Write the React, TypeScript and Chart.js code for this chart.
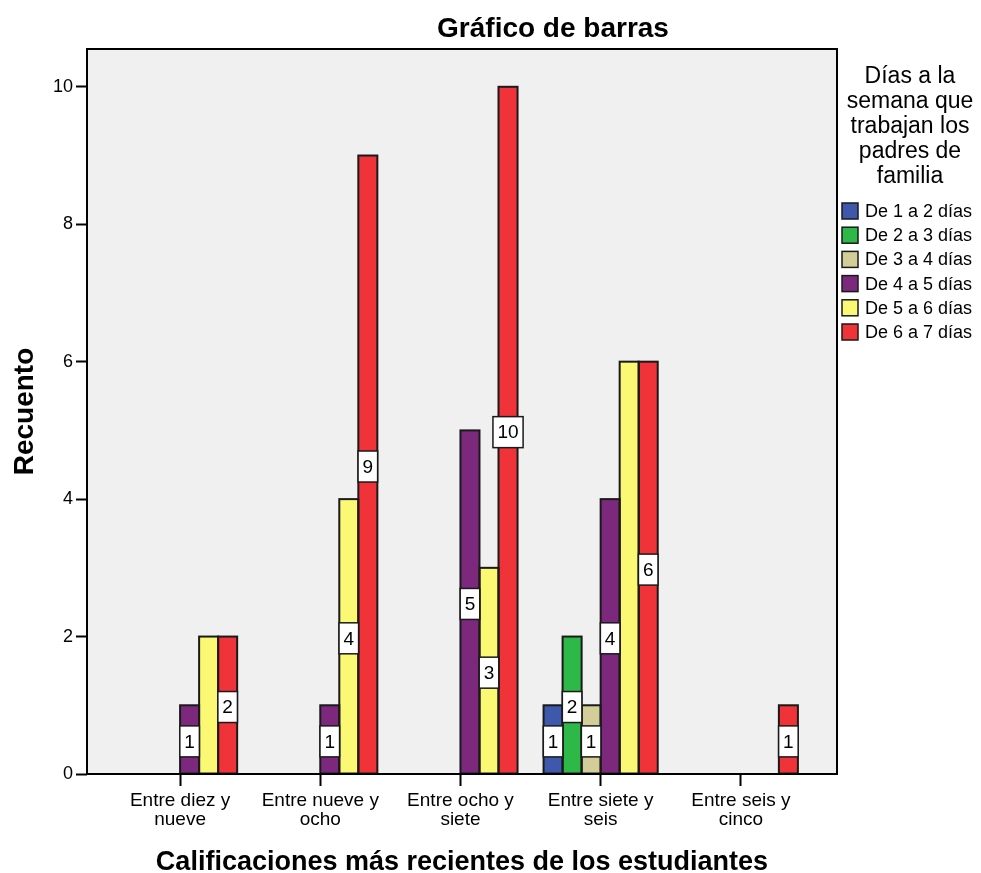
import React, { useEffect, useRef } from "react";
import { Chart, registerables } from "chart.js";

Chart.register(...registerables);

const FONT = "'Liberation Sans', Arial, Helvetica, sans-serif";

// ---- data ----
const categories: string[][] = [
  ["Entre diez y", "nueve"],
  ["Entre nueve y", "ocho"],
  ["Entre ocho y", "siete"],
  ["Entre siete y", "seis"],
  ["Entre seis y", "cinco"],
];
const seriesNames = [
  "De 1 a 2 días",
  "De 2 a 3 días",
  "De 3 a 4 días",
  "De 4 a 5 días",
  "De 5 a 6 días",
  "De 6 a 7 días",
];
const seriesColors = ["#3E58AC", "#2EB848", "#D3CE97", "#7C287D", "#FBF873", "#EF3338"];
const de1a2 = [0, 0, 0, 1, 0];
const de2a3 = [0, 0, 0, 2, 0];
const de3a4 = [0, 0, 0, 1, 0];
const de4a5 = [1, 1, 5, 4, 0];
const de5a6 = [2, 4, 3, 6, 0];
const de6a7 = [2, 9, 10, 6, 1];
const seriesValues = [de1a2, de2a3, de3a4, de4a5, de5a6, de6a7];
const yTicks = [0, 2, 4, 6, 8, 10];

const chartTitle = "Gráfico de barras";
const xTitle = "Calificaciones más recientes de los estudiantes";
const yTitle = "Recuento";
const legendTitle = ["Días a la", "semana que", "trabajan los", "padres de", "familia"];

const decorPlugin = {
  id: "decor",
  beforeDraw(chart: any) {
    const { ctx, chartArea: a } = chart;
    ctx.save();
    ctx.fillStyle = "#f0f0f0";
    ctx.fillRect(a.left, a.top, a.right - a.left, a.bottom - a.top);
    ctx.restore();
  },
  afterDatasetsDraw(chart: any) {
    const { ctx } = chart;
    ctx.save();
    // bar outlines
    seriesValues.forEach((vals, d) => {
      const meta = chart.getDatasetMeta(d);
      meta.data.forEach((el: any, i: number) => {
        if (!vals[i]) return;
        const p = el.getProps(["x", "y", "base", "width"], true);
        ctx.strokeStyle = "#1a1a1a";
        ctx.lineWidth = 2;
        ctx.strokeRect(p.x - p.width / 2, p.y, p.width, p.base - p.y);
      });
    });
    // value boxes (a label is dropped when it would collide with a later series' label)
    ctx.font = `19px ${FONT}`;
    ctx.textAlign = "center";
    ctx.textBaseline = "middle";
    const boxes: any[] = [];
    seriesValues.forEach((vals, d) => {
      const meta = chart.getDatasetMeta(d);
      meta.data.forEach((el: any, i: number) => {
        const v = vals[i];
        if (!v) return;
        const p = el.getProps(["x", "y", "base", "width"], true);
        const txt = String(v);
        boxes.push({
          d,
          i,
          txt,
          x: p.x,
          cy: (p.y + p.base) / 2 + 2,
          w: ctx.measureText(txt).width + 9,
          h: 31,
        });
      });
    });
    boxes.forEach((b) => {
      const hidden = boxes.some(
        (o) =>
          o.i === b.i &&
          o.d > b.d &&
          Math.abs(o.x - b.x) < (o.w + b.w) / 2 + 1 &&
          Math.abs(o.cy - b.cy) < (o.h + b.h) / 2
      );
      if (hidden) return;
      ctx.fillStyle = "#ffffff";
      ctx.fillRect(b.x - b.w / 2, b.cy - b.h / 2, b.w, b.h);
      ctx.strokeStyle = "#1a1a1a";
      ctx.lineWidth = 1.5;
      ctx.strokeRect(b.x - b.w / 2, b.cy - b.h / 2, b.w, b.h);
      ctx.fillStyle = "#000";
      ctx.fillText(b.txt, b.x, b.cy + 1);
    });
    ctx.restore();
  },
  afterDraw(chart: any) {
    const { ctx, chartArea: a } = chart;
    ctx.save();
    // frame
    ctx.strokeStyle = "#000";
    ctx.lineWidth = 2;
    ctx.strokeRect(a.left, a.top, a.right - a.left, a.bottom - a.top);

    ctx.fillStyle = "#000";
    // main title
    ctx.font = `bold 28px ${FONT}`;
    ctx.textAlign = "center";
    ctx.textBaseline = "alphabetic";
    ctx.fillText(chartTitle, 553, 37);

    // x title
    ctx.font = `bold 27px ${FONT}`;
    ctx.fillText(xTitle, (a.left + a.right) / 2, 870);

    // y title
    ctx.save();
    ctx.translate(33, (a.top + a.bottom) / 2);
    ctx.rotate(-Math.PI / 2);
    ctx.font = `bold 28px ${FONT}`;
    ctx.fillText(yTitle, 0, 0);
    ctx.restore();

    // legend title
    ctx.font = `23px ${FONT}`;
    ctx.textAlign = "center";
    legendTitle.forEach((line, i) => {
      ctx.fillText(line, 910, 83 + i * 25);
    });

    // legend items
    ctx.font = `18px ${FONT}`;
    ctx.textAlign = "left";
    ctx.textBaseline = "middle";
    seriesNames.forEach((name, i) => {
      const cy = 211 + i * 24.2;
      ctx.fillStyle = seriesColors[i];
      ctx.fillRect(842, cy - 8, 16, 16);
      ctx.strokeStyle = "#1a1a1a";
      ctx.lineWidth = 1.5;
      ctx.strokeRect(842, cy - 8, 16, 16);
      ctx.fillStyle = "#000";
      ctx.fillText(name, 865, cy + 1);
    });
    ctx.restore();
  },
};

export default function App() {
  const ref = useRef<HTMLCanvasElement | null>(null);

  useEffect(() => {
    document.body.style.margin = "0";
    const canvas = ref.current;
    if (!canvas) return;
    const datasets = seriesNames.map((name, d) => ({
      label: name,
      backgroundColor: seriesColors[d],
      borderWidth: 0,
      data: seriesValues[d].map((v, i) => ({ x: i, y: v > 0 ? v : null })),
    }));
    const chart = new Chart(canvas, {
      type: "bar",
      data: { datasets } as any,
      options: {
        responsive: false,
        animation: false,
        devicePixelRatio: 1,
        layout: { padding: { left: 0, right: 144, top: 49, bottom: 0 } },
        datasets: { bar: { categoryPercentage: 114 / 140, barPercentage: 1 } } as any,
        plugins: {
          legend: { display: false },
          title: { display: false },
          tooltip: { enabled: false },
        },
        scales: {
          x: {
            type: "linear",
            min: -0.664,
            max: 4.686,
            offset: false,
            afterBuildTicks: (s: any) => {
              s.ticks = categories.map((_, i) => ({ value: i }));
            },
            afterFit: (s: any) => {
              s.height = 99;
            },
            grid: {
              offset: false,
              drawOnChartArea: false,
              drawTicks: true,
              tickLength: 12,
              tickWidth: 2,
              tickColor: "#000",
              color: "#000",
            },
            border: { display: false },
            ticks: {
              autoSkip: false,
              maxRotation: 0,
              minRotation: 0,
              padding: 5,
              color: "#000",
              font: { family: FONT, size: 19, lineHeight: 1.0 },
              callback: (v: any) => categories[v] ?? "",
            },
          },
          y: {
            min: 0,
            max: 10.55,
            afterBuildTicks: (s: any) => {
              s.ticks = yTicks.map((v) => ({ value: v }));
            },
            afterFit: (s: any) => {
              s.width = 87;
            },
            grid: {
              drawOnChartArea: false,
              drawTicks: true,
              tickLength: 11,
              tickWidth: 2,
              tickColor: "#000",
              color: "#000",
            },
            border: { display: false },
            ticks: {
              padding: 3,
              color: "#000",
              font: { family: FONT, size: 18 },
            },
          },
        } as any,
      },
      plugins: [decorPlugin],
    });
    return () => chart.destroy();
  }, []);

  return (
    <div style={{ width: 981, height: 873, background: "#fff" }}>
      <canvas ref={ref} width={981} height={873} style={{ display: "block" }} />
    </div>
  );
}
